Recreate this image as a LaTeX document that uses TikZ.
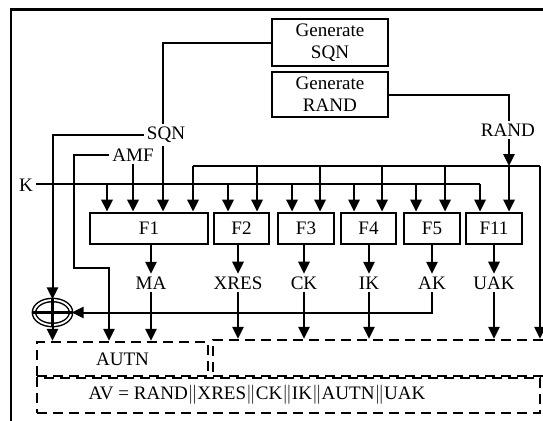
\documentclass[tikz,border=0pt]{standalone}
\usepackage{fontspec}
\setmainfont{Liberation Serif}
\usetikzlibrary{arrows.meta,shapes.geometric,calc}
\begin{document}
\begin{tikzpicture}[x=0.75pt,y=-0.75pt,
  every node/.style={font=\fontsize{14.3}{16.3}\selectfont},
  line/.style={line width=1.5pt},
  arr/.style={line width=1.5pt,-{Triangle[width=8.5pt,length=9pt]}},
  fbox/.style={draw,line width=2.1pt,inner sep=0pt,minimum height=23.25pt},
  gbox/.style={draw,line width=2.1pt,inner sep=0pt,minimum width=87pt,align=center},
  lbl/.style={inner sep=2pt},
  dbox/.style={draw,line width=1.8pt,dash pattern=on 7.5pt off 4.5pt,inner sep=0pt},
  xorsym/.style={draw,ellipse,double,line width=1.1pt,double distance=1.4pt,minimum width=27.75pt,minimum height=18.75pt,inner sep=0pt}]
\useasboundingbox (0,0) rectangle (543,421);
\clip (0,0) rectangle (543,421);
\fill[white] (0,0) rectangle (543,421);
% outer frame (cropped)
\draw[line width=2.2pt] (11,9.5) rectangle (620,520);
% generator boxes
\node[gbox,minimum height=35.25pt] (gsqn) at (330,42.5) {Generate\\SQN};
\node[gbox,minimum height=33.75pt] (grand) at (330,94.5) {Generate\\RAND};
% function boxes
\node[fbox,minimum width=88.5pt] (F1) at (149,228.5) {F1};
\node[fbox,minimum width=41.25pt] (F2) at (241.5,228.5) {F2};
\node[fbox,minimum width=42pt] (F3) at (306,228.5) {F3};
\node[fbox,minimum width=41.25pt] (F4) at (368.5,228.5) {F4};
\node[fbox,minimum width=42pt] (F5) at (432,228.5) {F5};
\node[fbox,minimum width=42pt] (F11) at (494,228.5) {F11};
% input labels
\node[lbl] (sqn) at (166,135) {SQN};
\node[lbl] (amf) at (133,155) {AMF};
\node[lbl] (k) at (26,185) {K};
\node[lbl] (rand) at (508,130) {RAND};
% output labels
\node[lbl] (ma) at (151,283) {MA};
\node[lbl] (xres) at (238,283) {XRES};
\node[lbl] (ck) at (304,283) {CK};
\node[lbl] (ik) at (369,283) {IK};
\node[lbl] (ak) at (432,283) {AK};
\node[lbl] (uak) at (494,283) {UAK};
% xor
\node[xorsym] (xor) at (52.5,312.5) {};
\draw[line width=1.6pt] (xor.north) -- (xor.south) (xor.west) -- (xor.east);
% dashed output boxes
\node[dbox,minimum width=128.25pt,minimum height=25.5pt] (autn) at (122.5,359) {AUTN};
\node[dbox,minimum width=290.25pt,minimum height=27pt] (rbox) at (406.5,358) {};
\node[dbox,minimum width=377.25pt,minimum height=26.25pt] (av) at (288.5,395.5) {};
\node[lbl] (avtext) at (257,395) {AV = RAND$\|$XRES$\|$CK$\|$IK$\|$AUTN$\|$UAK};
% SQN path
\coordinate (sq) at (163,43);
\draw[line] (gsqn.west) -- (gsqn.west -| sq) -- (sq |- sqn.north);
\draw[arr] (sq |- sqn.south) -- (sq |- F1.north);
\draw[arr] (sqn.west) -- (sqn.west -| xor.north) -- (xor.north);
% AMF path
\coordinate (am) at (74,268);
\coordinate (am2) at (109,268);
\draw[arr] (amf.west) -- (amf.west -| am) -- (am) -- (am2) -- (am2 |- autn.north);
\draw[arr] (amf.south) -- (amf.south |- F1.north);
% K path
\coordinate (kend) at (480,184);
\draw[line] (k.east |- kend) -- (kend);
\foreach \x/\b in {107/F1,228/F2,292/F3,354/F4,416/F5,480/F11}{
  \coordinate (kx) at (\x,184);
  \draw[arr] (kx) -- (kx |- \b.north);
}
% RAND path
\coordinate (rl0) at (193,166);
\coordinate (rl1) at (540,166);
\coordinate (rx) at (509,166);
\draw[line] (grand.east) -- (grand.east -| rx) -- (rx |- rand.north);
\draw[arr] (rx |- rand.south) -- (rx);
\draw[line] (rl0) -- (rl1);
\draw[arr] (rl1) -- (rl1 |- rbox.north);
\foreach \x/\b in {193/F1,257/F2,320/F3,382/F4,445/F5,509/F11}{
  \coordinate (rr) at (\x,166);
  \draw[arr] (rr) -- (rr |- \b.north);
}
% outputs
\foreach \o/\b in {ma/F1,xres/F2,ck/F3,ik/F4,ak/F5,uak/F11}{
  \draw[arr] (\o |- \b.south) -- (\o.north);
}
\draw[arr] (ma.south) -- (ma |- autn.north);
\draw[arr] (xres.south) -- (xres |- rbox.north);
\draw[arr] (ck.south) -- (ck |- rbox.north);
\draw[arr] (ik.south) -- (ik |- rbox.north);
\draw[arr] (uak.south) -- (uak |- rbox.north);
\draw[arr] (ak.south) -- (ak.south |- xor.east) -- (xor.east);
\draw[arr] (xor.south) -- (xor.south |- autn.north);
\end{tikzpicture}
\end{document}
